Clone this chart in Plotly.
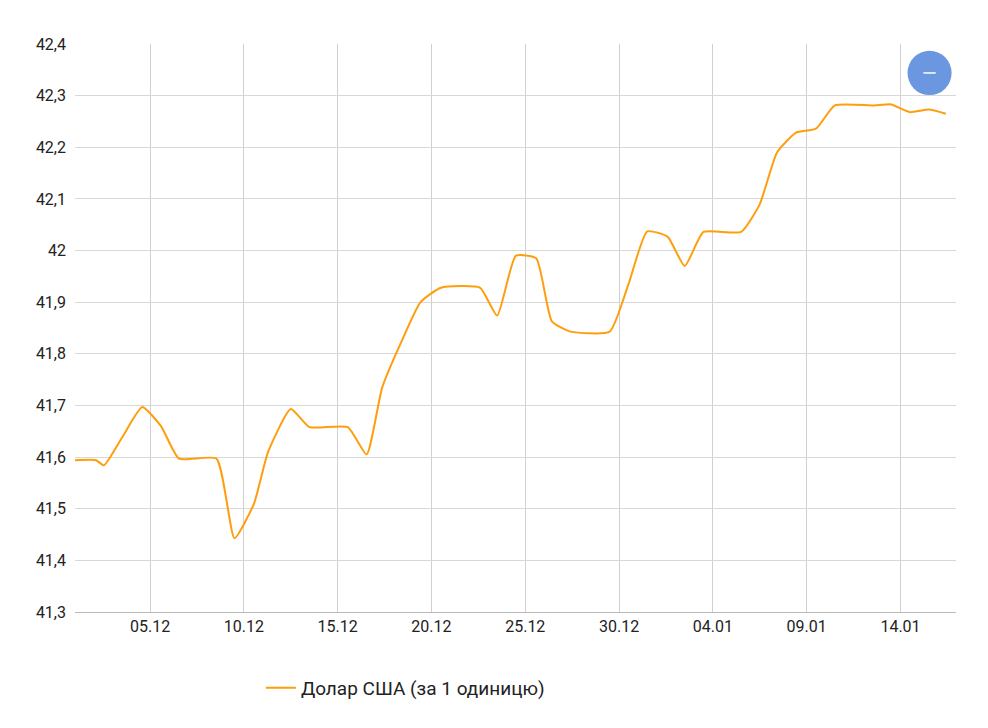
import plotly.graph_objects as go
import pandas as pd

day_offsets = [0, 1.13, 1.55, 2.56, 3.57, 4.59, 5.54, 7.56, 8.52, 9.53, 10.28, 11.5, 12.5, 14.53, 15.54,
               16.39, 17.4, 18.4, 19.5, 21.6, 22.5, 23.5, 24.6, 25.4, 26.4, 28.5, 29.5, 30.5, 31.6,
               32.5, 33.5, 35.5, 36.5, 37.4, 38.4, 39.5, 40.5, 42.6, 43.5, 44.5, 45.5, 46.4]
values = [41.594, 41.594, 41.584, 41.64, 41.697, 41.66, 41.597, 41.597, 41.443, 41.51, 41.61, 41.693,
          41.658, 41.658, 41.605, 41.735, 41.825, 41.9, 41.928, 41.928, 41.874, 41.99, 41.985, 41.863,
          41.843, 41.843, 41.935, 42.037, 42.027, 41.97, 42.036, 42.036, 42.09, 42.19, 42.228, 42.236,
          42.281, 42.281, 42.283, 42.268, 42.273, 42.265]
base = pd.Timestamp("2023-12-01")
dates = [base + pd.Timedelta(hours=round(d * 24)) for d in day_offsets]
series_name = "Долар США (за 1 одиницю)"

fig = go.Figure(go.Scatter(x=dates, y=values, mode="lines", name=series_name,
                           line=dict(color="#ff9e0d", width=2, shape="spline", smoothing=0.5)))
fig.update_layout(
    width=988, height=728, paper_bgcolor="white", plot_bgcolor="white",
    margin=dict(l=67, r=40, t=36, b=124), separators=", ",
    font=dict(family="Roboto", size=16, color="#222"),
    showlegend=True,
    legend=dict(orientation="h", x=0.375, xanchor="center", y=-0.1, yanchor="top", font=dict(size=19)),
    xaxis=dict(range=[base, base + pd.Timedelta(hours=round(46.97 * 24))],
               tick0="2023-12-05", dtick=5 * 86400000, tickformat="%d.%m",
               showgrid=True, gridcolor="#d0d0d0", showline=True, linecolor="#bbb", ticks="",
               zeroline=False),
    yaxis=dict(range=[41.3, 42.4], dtick=0.1, tickformat=".1~f", showgrid=True, gridcolor="#d8d8d8",
               zeroline=False, ticks="", ticklabelstandoff=8),
    shapes=[dict(type="circle", xref="paper", yref="paper", x0=0.945, x1=0.995, y0=0.910, y1=0.988,
                 fillcolor="#6a97e0", line=dict(width=0)),
            dict(type="line", xref="paper", yref="paper", x0=0.963, x1=0.977, y0=0.949, y1=0.949,
                 line=dict(color="white", width=1.5))],
)
fig.write_html("out.html")
